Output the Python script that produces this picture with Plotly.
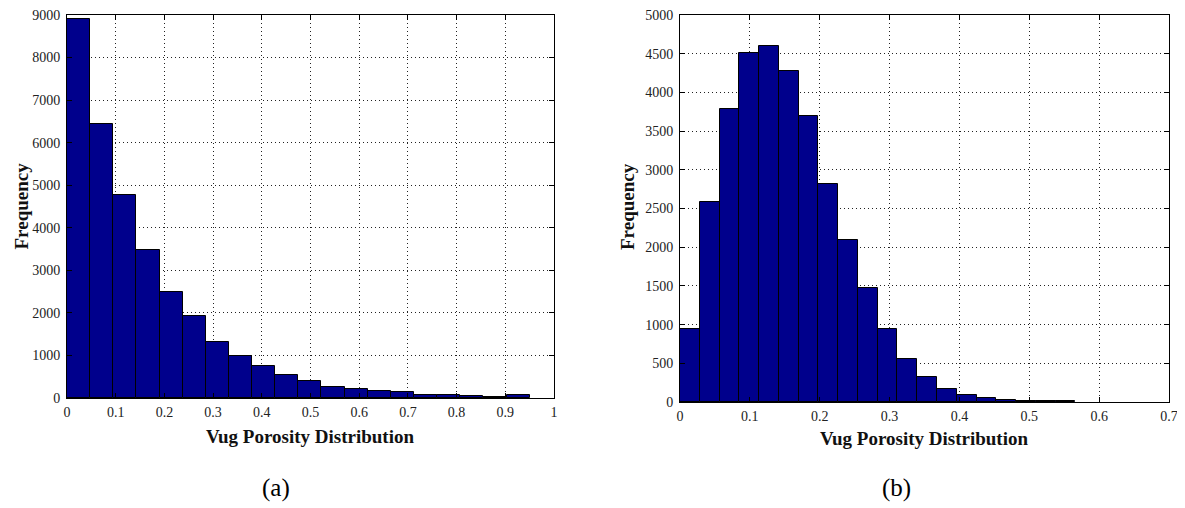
import numpy as np
import plotly.graph_objects as go

# ---- data ----
counts_a = [8910, 6430, 4770, 3480, 2480, 1920, 1320, 980, 745, 550,
            395, 260, 215, 155, 130, 80, 78, 55, 28, 78]
range_a = (0.0, 0.95)
counts_b = [940, 2580, 3790, 4510, 4600, 4275, 3700, 2820, 2095, 1470,
            945, 560, 325, 165, 88, 48, 28, 15, 10, 8]
range_b = (0.0, 0.566)
xticks_a = [0, 0.1, 0.2, 0.3, 0.4, 0.5, 0.6, 0.7, 0.8, 0.9, 1]
xticklabels_a = ["0", "0.1", "0.2", "0.3", "0.4", "0.5", "0.6", "0.7", "0.8", "0.9", "1"]
yticks_a = [0, 1000, 2000, 3000, 4000, 5000, 6000, 7000, 8000, 9000]
xticks_b = [0, 0.1, 0.2, 0.3, 0.4, 0.5, 0.6, 0.7]
xticklabels_b = ["0", "0.1", "0.2", "0.3", "0.4", "0.5", "0.6", "0.7"]
yticks_b = [0, 500, 1000, 1500, 2000, 2500, 3000, 3500, 4000, 4500, 5000]
x_title = "Vug Porosity Distribution"
y_title = "Frequency"
panel_labels = ["(a)", "(b)"]

OFF = 8  # page body margin
W, H = 1185 - OFF, 508 - OFF
FONT = "Liberation Serif, Times New Roman, serif"
BAR = "#00008C"


def px(x):
    return (x - OFF) / W


def py(y):
    return 1 - (y - OFF) / H


def hist_trace(counts, rng, xa, ya):
    edges = np.linspace(rng[0], rng[1], len(counts) + 1)
    w = edges[1] - edges[0]
    return go.Bar(x=edges[:-1], y=counts, width=[w] * len(counts), offset=0,
                  marker=dict(color=BAR, line=dict(color="black", width=1)),
                  xaxis=xa, yaxis=ya, showlegend=False, hoverinfo="x+y")


fig = go.Figure()
fig.add_trace(hist_trace(counts_a, range_a, "x", "y"))
fig.add_trace(hist_trace(counts_b, range_b, "x2", "y2"))

axis_common = dict(showline=True, linecolor="black", linewidth=1, mirror="ticks",
                   ticks="inside", ticklen=5, tickcolor="black", automargin=False,
                   ticklabeloverflow="allow",
                   showgrid=True, gridcolor="#222222", gridwidth=1, griddash="1px,3px",
                   zeroline=False, tickfont=dict(family=FONT, size=14, color="#222222"))

fig.update_layout(
    template="none",
    width=W, height=H, margin=dict(l=0, r=0, t=0, b=0, pad=0),
    paper_bgcolor="white", plot_bgcolor="white", bargap=0,
    xaxis=dict(domain=[px(67), px(554)], range=[0, 1], tickvals=xticks_a,
               ticktext=xticklabels_a, anchor="y", ticklabelstandoff=1, **axis_common),
    yaxis=dict(domain=[py(398), py(15)], range=[0, 9000], tickvals=yticks_a,
               anchor="x", ticklabelstandoff=3, **axis_common),
    xaxis2=dict(domain=[px(680), px(1169)], range=[0, 0.7], tickvals=xticks_b,
                ticktext=xticklabels_b, anchor="y2", ticklabelstandoff=1, **axis_common),
    yaxis2=dict(domain=[py(402), py(15)], range=[0, 5000], tickvals=yticks_b,
                anchor="x2", ticklabelstandoff=3, **axis_common),
)

ann = []
for cx, ty in [(310, 436), (924, 438)]:
    ann.append(dict(x=px(cx), y=py(ty), xref="paper", yref="paper", text="<b>%s</b>" % x_title,
                    showarrow=False, font=dict(family=FONT, size=19, color="#111111"),
                    xanchor="center", yanchor="middle"))
ann.append(dict(x=px(8), y=py(206), xref="paper", yref="paper", text="<b>%s</b>" % y_title,
                showarrow=False, textangle=-90, font=dict(family=FONT, size=19, color="#111111"),
                xanchor="left", yanchor="middle"))
ann.append(dict(x=px(627), y=py(207), xref="paper", yref="paper", text="<b>%s</b>" % y_title,
                showarrow=False, textangle=-90, font=dict(family=FONT, size=19, color="#111111"),
                xanchor="center", yanchor="middle"))
for cx, lab in [(276, panel_labels[0]), (896, panel_labels[1])]:
    ann.append(dict(x=px(cx), y=py(488), xref="paper", yref="paper", text=lab,
                    showarrow=False, font=dict(family=FONT, size=25, color="black"),
                    xanchor="center", yanchor="middle"))
fig.update_layout(annotations=ann)

fig.write_html("out.html")
